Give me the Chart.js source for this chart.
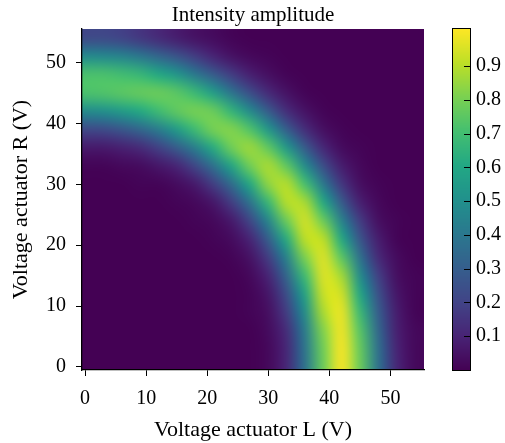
<!DOCTYPE html>
<html>
<head>
<meta charset="utf-8">
<script src="https://cdn.jsdelivr.net/npm/chart.js@4.4.0/dist/chart.umd.min.js"></script>
<style>
  html, body { margin: 0; padding: 0; background: #fff; }
  #wrap { width: 505px; height: 443px; }
</style>
</head>
<body>
<div id="wrap"><canvas id="heatChart" width="505" height="443"></canvas></div>
<script>
// sample voltages on each actuator (V)
const voltsL = [0, 3, 6, 9, 12, 15, 18, 21, 24, 27, 30, 33, 36, 39, 42, 45, 48, 51, 54];
const voltsR = [0, 3, 6, 9, 12, 15, 18, 21, 24, 27, 30, 33, 36, 39, 42, 45, 48, 51, 54];

// intensity amplitude, one row per R voltage (R = 0 first), columns follow voltsL
const intensity = [
    [0, 0, 0, 0, 0, 0, 0, 0, 0, 0, .02, .11, .38, .78, 1.0, .78, .38, .11, .02],
    [0, 0, 0, 0, 0, 0, 0, 0, 0, 0, .02, .11, .39, .79, 1.0, .77, .37, .10, .02],
    [0, 0, 0, 0, 0, 0, 0, 0, 0, 0, .03, .13, .42, .82, .99, .74, .34, .09, .02],
    [0, 0, 0, 0, 0, 0, 0, 0, 0, .01, .04, .18, .49, .88, .98, .68, .30, .08, .01],
    [0, 0, 0, 0, 0, 0, 0, 0, 0, .01, .06, .24, .58, .93, .94, .60, .25, .06, .01],
    [0, 0, 0, 0, 0, 0, 0, 0, 0, .02, .10, .33, .69, .96, .87, .49, .19, .04, .01],
    [0, 0, 0, 0, 0, 0, 0, 0, .01, .05, .18, .45, .81, .96, .75, .38, .12, .03, 0],
    [0, 0, 0, 0, 0, 0, 0, .01, .03, .10, .30, .62, .91, .91, .61, .27, .08, .01, 0],
    [0, 0, 0, 0, 0, 0, .01, .02, .07, .21, .46, .78, .94, .78, .45, .18, .04, .01, 0],
    [0, 0, 0, 0, 0, .01, .02, .06, .18, .38, .67, .90, .88, .61, .29, .09, .02, 0, 0],
    [0, 0, 0, .01, .01, .03, .07, .18, .35, .60, .84, .90, .71, .41, .16, .04, .01, 0, 0],
    [.01, .01, .02, .03, .06, .10, .21, .37, .59, .79, .88, .76, .49, .24, .08, .02, 0, 0, 0],
    [.07, .07, .09, .12, .19, .29, .43, .62, .79, .86, .76, .54, .29, .11, .03, .01, 0, 0, 0],
    [.22, .23, .27, .33, .42, .55, .69, .80, .82, .73, .53, .30, .13, .04, .01, 0, 0, 0, 0],
    [.48, .50, .55, .61, .69, .76, .80, .78, .66, .48, .29, .13, .05, .01, 0, 0, 0, 0, 0],
    [.72, .73, .75, .77, .78, .75, .68, .56, .39, .24, .12, .05, .01, 0, 0, 0, 0, 0, 0],
    [.72, .72, .70, .67, .61, .53, .41, .29, .18, .09, .04, .01, 0, 0, 0, 0, 0, 0, 0],
    [.48, .47, .45, .40, .33, .26, .18, .10, .05, .02, .01, 0, 0, 0, 0, 0, 0, 0, 0],
    [.22, .22, .20, .16, .12, .08, .05, .03, .01, 0, 0, 0, 0, 0, 0, 0, 0, 0, 0]
];

const xTicks = [0, 10, 20, 30, 40, 50];
const yTicks = [0, 10, 20, 30, 40, 50];
const cbTicks = [0.1, 0.2, 0.3, 0.4, 0.5, 0.6, 0.7, 0.8, 0.9];
const cbMin = 0, cbMax = 1.01;
const chartTitle = 'Intensity amplitude';

// viridis colormap stops
const viridisStops = ['#440154', '#482475', '#414487', '#355f8d', '#2a788e', '#21918c',
                      '#22a884', '#44bf70', '#7ad151', '#bddf26', '#fde725'];

function hexRgb(h) {
    return [parseInt(h.slice(1, 3), 16), parseInt(h.slice(3, 5), 16), parseInt(h.slice(5, 7), 16)];
}
const viridisRgb = viridisStops.map(hexRgb);

function viridis(t) {
    t = Math.min(1, Math.max(0, t));
    const p = t * (viridisRgb.length - 1);
    const i = Math.min(viridisRgb.length - 2, Math.floor(p));
    const f = p - i;
    const a = viridisRgb[i], b = viridisRgb[i + 1];
    return [0, 1, 2].map(k => Math.round(a[k] + (b[k] - a[k]) * f));
}

function colourFor(v) {
    return viridis((v - cbMin) / (cbMax - cbMin));
}

const points = [];
voltsR.forEach((r, j) => {
    voltsL.forEach((l, i) => points.push({ x: l, y: r, v: intensity[j][i] }));
});

// draws the intensity grid as a smoothed image placed with the x/y scales
const heatmapPlugin = {
    id: 'heatmap',
    beforeDraw(chart) {
        const { ctx, chartArea } = chart;
        const xs = chart.scales.x, ys = chart.scales.y;
        const nx = voltsL.length, ny = voltsR.length;
        const off = document.createElement('canvas');
        off.width = nx;
        off.height = ny;
        const octx = off.getContext('2d');
        const img = octx.createImageData(nx, ny);
        for (let j = 0; j < ny; j++) {
            for (let i = 0; i < nx; i++) {
                const c = colourFor(intensity[j][i]);
                const k = ((ny - 1 - j) * nx + i) * 4;
                img.data[k] = c[0];
                img.data[k + 1] = c[1];
                img.data[k + 2] = c[2];
                img.data[k + 3] = 255;
            }
        }
        octx.putImageData(img, 0, 0);

        const dx = (voltsL[1] - voltsL[0]) / 2;
        const dy = (voltsR[1] - voltsR[0]) / 2;
        const x0 = xs.getPixelForValue(voltsL[0] - dx);
        const x1 = xs.getPixelForValue(voltsL[nx - 1] + dx);
        const y0 = ys.getPixelForValue(voltsR[ny - 1] + dy);
        const y1 = ys.getPixelForValue(voltsR[0] - dy);

        ctx.save();
        ctx.beginPath();
        ctx.rect(chartArea.left, chartArea.top, chartArea.right - chartArea.left, chartArea.bottom - chartArea.top);
        ctx.clip();
        ctx.imageSmoothingEnabled = true;
        ctx.imageSmoothingQuality = 'high';
        ctx.drawImage(off, x0, y0, x1 - x0, y1 - y0);
        ctx.restore();
    },
    afterDraw(chart) {
        const { ctx, chartArea } = chart;

        // title, centred over the plot
        ctx.save();
        ctx.font = "21px 'Liberation Serif', serif";
        ctx.fillStyle = '#000';
        ctx.textAlign = 'center';
        ctx.textBaseline = 'middle';
        ctx.fillText(chartTitle, (chartArea.left + chartArea.right) / 2, 15);
        ctx.restore();

        // colour bar, placed with the cb scale
        const cb = chart.scales.cb;
        const left = chartArea.right + 29, width = 17;
        const top = cb.getPixelForValue(cbMax), bottom = cb.getPixelForValue(cbMin);
        for (let py = Math.floor(top); py < Math.ceil(bottom); py++) {
            const c = colourFor(cb.getValueForPixel(py + 0.5));
            ctx.fillStyle = `rgb(${c[0]},${c[1]},${c[2]})`;
            ctx.fillRect(left, py, width, 1);
        }
        ctx.save();
        ctx.strokeStyle = '#000';
        ctx.lineWidth = 1;
        ctx.strokeRect(left - 0.5, Math.round(top) - 0.5, width + 1, Math.round(bottom - top) + 1);
        cbTicks.forEach(t => {
            const py = Math.round(cb.getPixelForValue(t)) + 0.5;
            ctx.beginPath();
            ctx.moveTo(left + width - 6, py);
            ctx.lineTo(left + width, py);
            ctx.stroke();
        });
        ctx.restore();
    }
};

Chart.defaults.font.family = "'Liberation Serif', 'DejaVu Serif', serif";
Chart.defaults.color = '#000';

const ctx = document.getElementById('heatChart').getContext('2d');
const heatChart = new Chart(ctx, {
    type: 'scatter',
    data: {
        datasets: [{
            label: 'Intensity amplitude',
            data: points,
            pointRadius: 0,
            pointHoverRadius: 0
        }]
    },
    options: {
        responsive: false,
        animation: false,
        events: [],
        layout: { padding: { top: 29, left: 0, right: 0, bottom: 0 } },
        plugins: {
            legend: { display: false },
            tooltip: { enabled: false },
            title: { display: false }
        },
        scales: {
            x: {
                type: 'linear',
                min: -0.5,
                max: 55.5,
                afterBuildTicks: s => { s.ticks = xTicks.map(v => ({ value: v })); },
                afterFit: s => { s.height = 73; },
                grid: { drawOnChartArea: false, drawTicks: true, tickLength: 6, color: '#000' },
                border: { display: true, color: '#000', width: 1.3 },
                ticks: { font: { size: 20 }, padding: 11, maxRotation: 0 },
                title: {
                    display: true,
                    text: 'Voltage actuator L (V)',
                    font: { size: 22 },
                    padding: { top: 0, bottom: 0 }
                }
            },
            y: {
                type: 'linear',
                min: -0.5,
                max: 55.5,
                afterBuildTicks: s => { s.ticks = yTicks.map(v => ({ value: v })); },
                afterFit: s => { s.width = 82; },
                grid: { drawOnChartArea: false, drawTicks: true, tickLength: 6, color: '#000' },
                border: { display: true, color: '#000', width: 1.3 },
                ticks: { font: { size: 20 }, padding: 10 },
                title: {
                    display: true,
                    text: 'Voltage actuator R (V)',
                    font: { size: 22 },
                    padding: { top: 8, bottom: 0 }
                }
            },
            cb: {
                type: 'linear',
                position: 'right',
                min: cbMin,
                max: cbMax,
                afterBuildTicks: s => { s.ticks = cbTicks.map(v => ({ value: v })); },
                afterFit: s => { s.width = 81; },
                grid: { display: true, drawOnChartArea: false, drawTicks: true, tickLength: 44, color: 'rgba(0,0,0,0)' },
                border: { display: false },
                ticks: { font: { size: 20 }, padding: 8, callback: v => v.toFixed(1) }
            }
        }
    },
    plugins: [heatmapPlugin]
});
</script>
</body>
</html>
